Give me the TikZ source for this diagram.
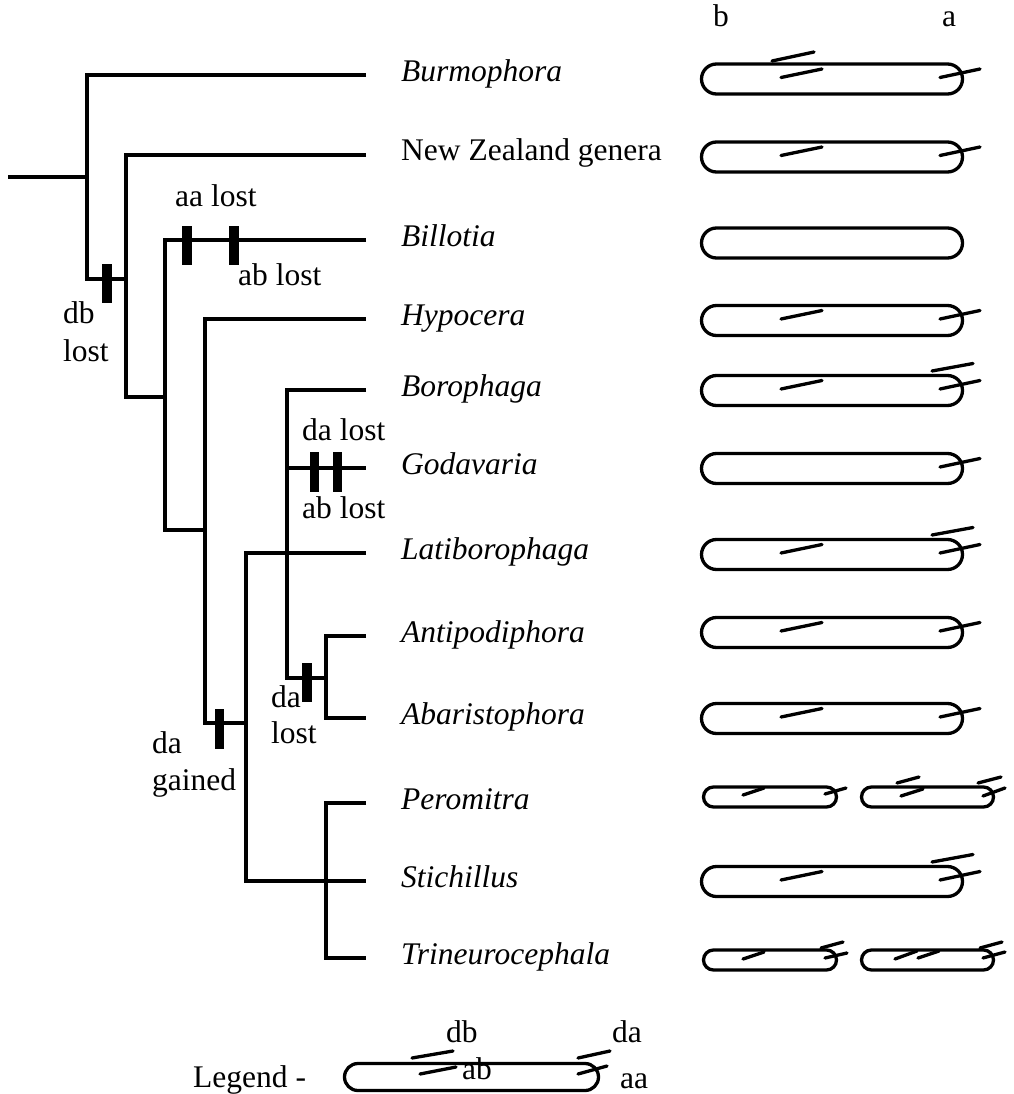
\documentclass[tikz,border=0pt]{standalone}
\usepackage{fontspec}
\setmainfont{Liberation Serif}
\newcommand{\fullcap}[1]{\draw[capline,rounded corners=15pt] (701.5,#1-15) rectangle (962.5,#1+15);}
\newcommand{\bab}[1]{\draw[bristle] (781,#1-1.5) -- (822,#1-10);}
\newcommand{\baa}[1]{\draw[bristle] (940,#1-1.5) -- (980,#1-10);}
\newcommand{\bdb}[1]{\draw[bristle] (772,#1-18) -- (814,#1-27);}
\newcommand{\bda}[1]{\draw[bristle] (932,#1-19.5) -- (973,#1-27);}
\newcommand{\smallcaps}[1]{%
  \draw[capline,rounded corners=10pt] (703.5,#1-10) rectangle (836.5,#1+10);
  \draw[capline,rounded corners=10pt] (861.5,#1-10) rectangle (993.5,#1+10);}
\begin{document}
\begin{tikzpicture}[x=1pt,y=-1pt,
  tree/.style={line width=3.2pt,line join=miter},
  capline/.style={line width=3.3pt},
  bristle/.style={line width=3.3pt,line cap=round},
  barmark/.style={fill=black,draw=none,inner sep=0pt,minimum width=10pt,minimum height=39pt},
  taxon/.style={anchor=base west,inner sep=0pt,font=\fontsize{31.5}{38}\selectfont\itshape},
  lab/.style={anchor=base west,inner sep=0pt,font=\fontsize{31.5}{38}\selectfont}]
\useasboundingbox (0,0) rectangle (1013,1094);

% tree nodes
\coordinate (root) at (8,177);
\coordinate (n1) at (87,177);
\coordinate (n2) at (126,279);
\coordinate (n3) at (165,397);
\coordinate (n4) at (205,530);
\coordinate (n5) at (246,723);
\coordinate (n6) at (287,553);
\coordinate (n8) at (326,678);
\coordinate (n7) at (326,881);
\coordinate (t1) at (366,75);
\coordinate (t2) at (366,155);
\coordinate (t3) at (366,240);
\coordinate (t4) at (366,319);
\coordinate (t5) at (366,390);
\coordinate (t6) at (366,468);
\coordinate (t7) at (366,553);
\coordinate (t8) at (366,636);
\coordinate (t9) at (366,718);
\coordinate (t10) at (366,803);
\coordinate (t11) at (366,881);
\coordinate (t12) at (366,958);

\draw[tree] (root) -- (n1);
\draw[tree] (t1) -| (n1) |- (n2);
\draw[tree] (t2) -| (n2) |- (n3);
\draw[tree] (t3) -| (n3) |- (n4);
\draw[tree] (t4) -| (n4) |- (n5);
\draw[tree] (t7) -| (n5) |- (t11);
\draw[tree] (t5) -| (n6) |- (n8);
\draw[tree] (n6 |- t6) -- (t6);
\draw[tree] (t8) -| (n8) |- (t9);
\draw[tree] (t10) -| (n7) |- (t12);

% character marks
\node[barmark] (mdb) at (107,283.5) {};
\node[barmark] (maa) at (187,245) {};
\node[barmark] (mab) at (234,245) {};
\node[barmark,minimum width=9pt,minimum height=40pt] (mgda) at (314.5,472) {};
\node[barmark,minimum width=9pt,minimum height=40pt] (mgab) at (337.5,472) {};
\node[barmark] (mda) at (307,682.5) {};
\node[barmark,minimum width=9pt,minimum height=40pt] (mgain) at (219.5,729) {};

% mark labels
\node[lab] (laa) at (175,207) {aa lost};
\node[lab] (lab1) at (238,285) {ab lost};
\node[lab] (ldb1) at (63,323) {db};
\node[lab] (ldb2) at (63,361) {lost};
\node[lab] (lgda) at (302,440) {da lost};
\node[lab] (lgab) at (302,518) {ab lost};
\node[lab] (lda1) at (271,707) {da};
\node[lab] (lda2) at (271,743) {lost};
\node[lab] (lgn1) at (152,753) {da};
\node[lab] (lgn2) at (152,790) {gained};

% taxa
\node[taxon] (burm) at (401,82) {Burmophora};
\node[lab] (nz) at (401,161) {New Zealand genera};
\node[taxon] (bill) at (401,246) {Billotia};
\node[taxon] (hypo) at (401,325) {Hypocera};
\node[taxon] (boro) at (401,396) {Borophaga};
\node[taxon] (goda) at (401,474) {Godavaria};
\node[taxon] (lati) at (401,559) {Latiborophaga};
\node[taxon] (anti) at (401,642) {Antipodiphora};
\node[taxon] (abar) at (401,724) {Abaristophora};
\node[taxon] (pero) at (401,809) {Peromitra};
\node[taxon] (stic) at (401,887) {Stichillus};
\node[taxon] (trin) at (401,964) {Trineurocephala};

% column heads
\node[lab] (hb) at (713,27) {b};
\node[lab] (ha) at (942,27) {a};

% capsules
\fullcap{79} \bdb{79} \bab{79} \baa{79}
\fullcap{157} \bab{157} \baa{157}
\fullcap{243}
\fullcap{320.5} \bab{320.5} \baa{320.5}
\fullcap{390.5} \bab{390.5} \bda{390.5} \baa{390.5}
\fullcap{468.5} \baa{468.5}
\fullcap{554.5} \bab{554.5} \bda{554.5} \baa{554.5}
\fullcap{632.5} \bab{632.5} \baa{632.5}
\fullcap{718.5} \bab{718.5} \baa{718.5}
\fullcap{881.5} \bab{881.5} \bda{881.5} \baa{881.5}

% Peromitra
\smallcaps{797}
\draw[bristle] (743,795) -- (764,788);
\draw[bristle] (825,794) -- (846,788);
\draw[bristle] (897,783) -- (919,777);
\draw[bristle] (901,796) -- (923,789);
\draw[bristle] (978,783) -- (1001,777);
\draw[bristle] (983,796) -- (1005,788);

% Trineurocephala
\smallcaps{960}
\draw[bristle] (743,959) -- (764,952);
\draw[bristle] (821,948) -- (843,942);
\draw[bristle] (825,958) -- (847,953);
\draw[bristle] (895,959) -- (917,951);
\draw[bristle] (918,958) -- (939,951);
\draw[bristle] (980,948) -- (1002,942);
\draw[bristle] (983,958) -- (1005,952);

% legend
\node[lab] (leg) at (193,1087) {Legend -};
\draw[capline,rounded corners=13.5pt] (344.5,1063.5) rectangle (598.5,1090.5);
\draw[bristle] (412,1058) -- (453,1051);
\draw[bristle] (420,1074) -- (456,1067);
\draw[bristle] (578,1058) -- (610,1051);
\draw[bristle] (578,1074) -- (607,1066);
\node[lab] (ldb) at (446,1042) {db};
\node[lab] (lab2) at (462,1079) {ab};
\node[lab] (lda) at (612,1042) {da};
\node[lab] (laa2) at (620,1088) {aa};
\end{tikzpicture}
\end{document}
